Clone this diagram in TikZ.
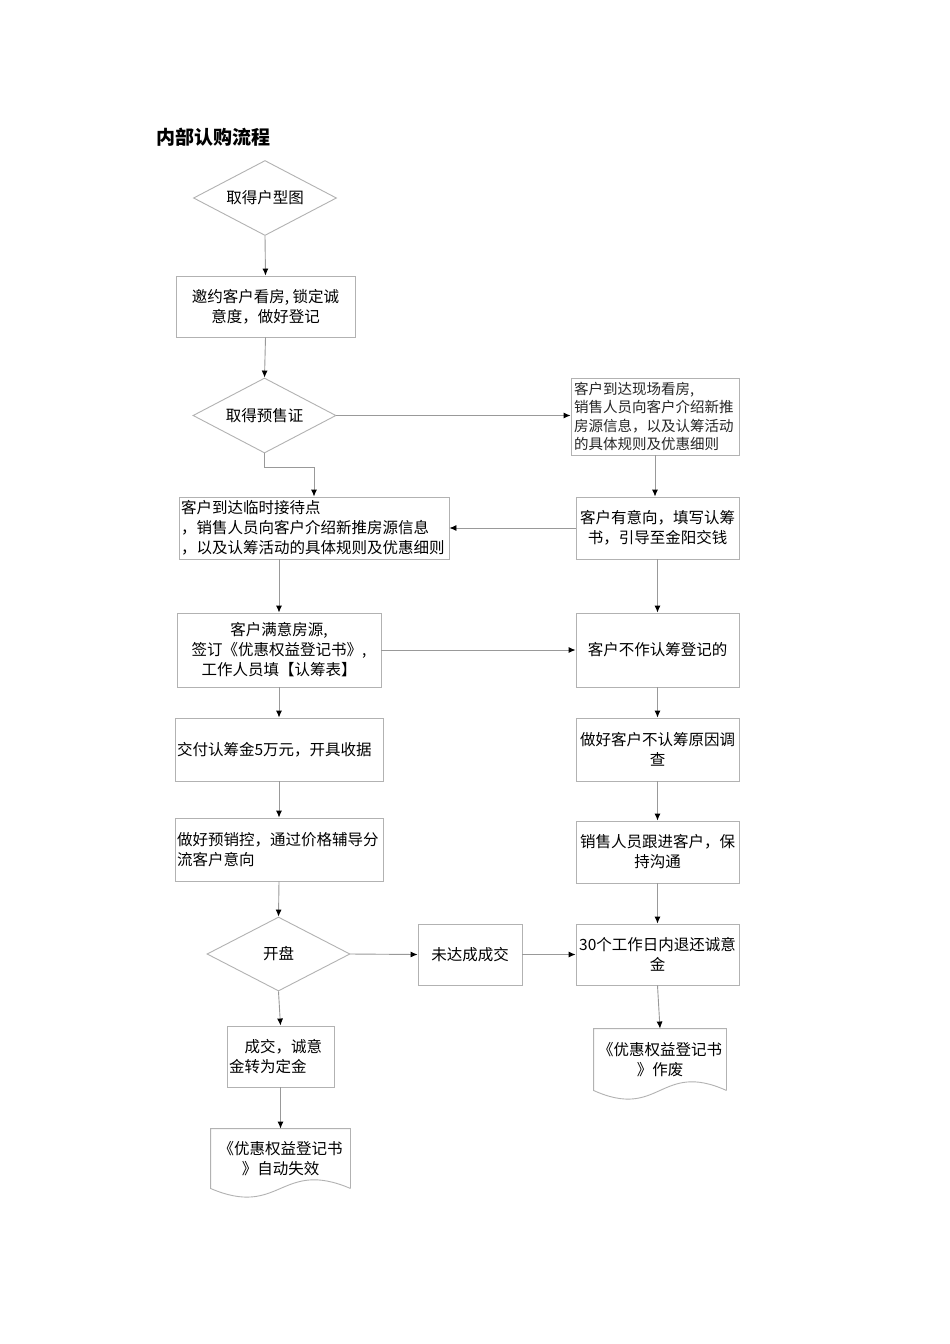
\documentclass[tikz,border=0pt]{standalone}
\usepackage{fontspec}
\setmainfont{Noto Sans CJK SC}
\usetikzlibrary{shapes.geometric,arrows.meta,calc}

\begin{document}
\begin{tikzpicture}[x=1pt,y=-1pt,line width=0.9pt,
  every node/.style={font=\fontsize{15.5}{20}\selectfont},
  box/.style={draw=black!30,rectangle,inner sep=2pt,align=center},
  dia/.style={draw=black!30,diamond,shape aspect=2,inner sep=0pt,minimum width=143pt,minimum height=75pt},
  doc/.style={rectangle,inner sep=2pt,align=center},
  link/.style={draw=black!40,-{Latex[color=black,length=7pt,width=6pt]}}]
\fill[white] (0,0) rectangle (950,1344);
\useasboundingbox (0,0) rectangle (950,1344);

\node[anchor=west,font=\fontsize{19}{22}\selectfont\bfseries] (title) at (153,137) {内部认购流程};

% left column
\node[dia] (dia1) at (265,198) {取得户型图};
\node[box,minimum width=179pt,minimum height=61pt] (box2) at (265.5,306.5) {邀约客户看房, 锁定诚\\意度，做好登记};
\node[dia] (dia3) at (264.5,415.5) {取得预售证};
\node[box,align=left,text width=266pt,minimum height=62pt] (l4) at (314,528)
  {客户到达临时接待点\\，销售人员向客户介绍新推房源信息\\，以及认筹活动的具体规则及优惠细则};
\node[box,minimum width=204pt,minimum height=74pt] (l5) at (279,650)
  {客户满意房源,\\签订《优惠权益登记书》,\\工作人员填【认筹表】};
\node[box,align=left,text width=204pt,minimum height=63pt] (l6) at (279,749.5) {交付认筹金5万元，开具收据};
\node[box,align=left,text width=204pt,minimum height=63pt] (l7) at (279,849.5) {做好预销控，通过价格辅导分\\流客户意向};
\node[dia,minimum height=74pt] (dia8) at (278.5,954) {开盘};
\node[box,minimum width=104pt,minimum height=61pt] (mid) at (470,954.5) {未达成成交};
\node[box,align=left,text width=103pt,minimum height=61pt] (l9) at (280.5,1056.5) {\hspace{1em}成交，诚意\\金转为定金};
\node[doc,minimum width=139pt,minimum height=59pt] (l10) at (280.5,1158.5) {《优惠权益登记书\\》自动失效};

% right column
\node[box,align=left,text width=162pt,minimum height=77pt,inner sep=3pt,text=black!85,
  font=\fontsize{14.5}{18.5}\selectfont] (r1) at (655,416.5)
  {客户到达现场看房,\\销售人员向客户介绍新推\\房源信息，以及认筹活动\\的具体规则及优惠细则};
\node[box,minimum width=163pt,minimum height=62pt] (r2) at (657.5,528) {客户有意向，填写认筹\\书，引导至金阳交钱};
\node[box,minimum width=163pt,minimum height=74pt] (r3) at (657.5,650) {客户不作认筹登记的};
\node[box,minimum width=163pt,minimum height=63pt] (r4) at (657.5,749.5) {做好客户不认筹原因调\\查};
\node[box,minimum width=163pt,minimum height=62pt] (r5) at (657.5,852) {销售人员跟进客户，保\\持沟通};
\node[box,minimum width=163pt,minimum height=61pt] (r6) at (657.5,954.5) {30个工作日内退还诚意\\金};
\node[doc,minimum width=132pt,minimum height=61pt] (r7) at (660,1059.5) {《优惠权益登记书\\》作废};

% document outlines
\foreach \d in {l10,r7}
  \draw[black!30] (\d.south east) -- (\d.north east) -- (\d.north west) -- (\d.south west)
    .. controls ($(\d.south west)!0.5!(\d.south east)+(0,30)$) and ($(\d.south west)!0.5!(\d.south east)+(0,-30)$) .. (\d.south east);

% connectors
\foreach \a/\b in {dia1/box2, box2/dia3, r2/r3, l5/l6, r3/r4, l6/l7, r4/r5, l7/dia8,
  r5/r6, dia8/l9, l9/l10, r6/r7}
  \draw[link] (\a.south) -- (\b.north);
\draw[link] (dia3.east) -- (dia3.east -| r1.west);
\draw[link] (dia3.south) -- ++(0,14) -| (l4.north);
\draw[link] (r1.south) -- (r1.south |- r2.north);
\draw[link] (r2.west) -- (l4.east);
\draw[link] (l4.south -| l5.north) -- (l5.north);
\draw[link] (l5.east) -- (r3.west);
\draw[link] (dia8.east) -- (mid.west);
\draw[link] (mid.east) -- (r6.west);
\end{tikzpicture}
\end{document}
